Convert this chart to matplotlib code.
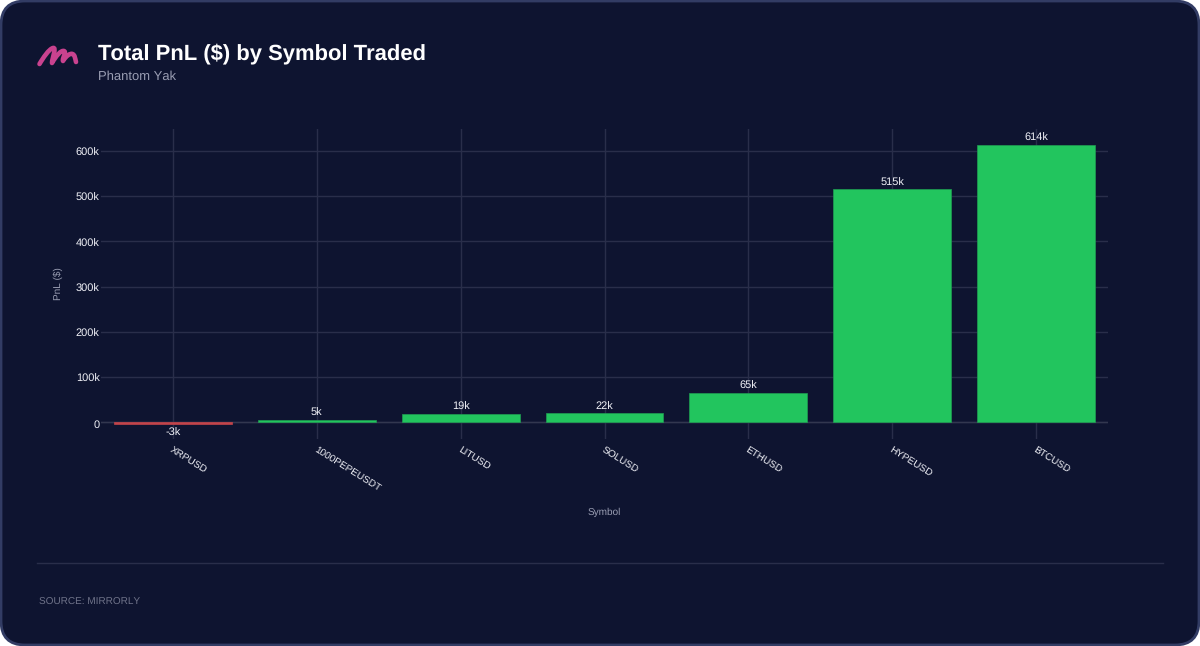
import matplotlib
matplotlib.use("Agg")
import matplotlib.pyplot as plt
from matplotlib.patches import FancyBboxPatch, PathPatch
from matplotlib.path import Path
from matplotlib.transforms import ScaledTranslation

plt.rcParams['font.family'] = ['Liberation Sans', 'DejaVu Sans']
plt.rcParams['text.hinting'] = 'no_hinting'
plt.rcParams['text.hinting_factor'] = 1

symbols = ['XRPUSD', '1000PEPEUSDT', 'LITUSD', 'SOLUSD', 'ETHUSD', 'HYPEUSD', 'BTCUSD']
pnl_k = [-3, 5, 19, 22, 65, 515, 614]
y_ticks = [0, 100, 200, 300, 400, 500, 600]
y_tick_labels = ['0', '100k', '200k', '300k', '400k', '500k', '600k']

W, H = 1200, 646
BG = '#0e1430'
BORDER = '#323c64'
GRID = '#292e4a'
GREEN = '#22c55e'
RED = '#c2444a'
TEXT = '#f0f1f7'
MUTED = '#9a9eb3'

fig = plt.figure(figsize=(W / 100, H / 100), dpi=100, facecolor='white')

# Card and furniture, in pixel coordinates
bgax = fig.add_axes([0, 0, 1, 1], zorder=0)
bgax.set_xlim(0, W)
bgax.set_ylim(H, 0)
bgax.axis('off')
bgax.add_patch(FancyBboxPatch((1, 1), W - 2, H - 2,
                              boxstyle='round,pad=0,rounding_size=24',
                              fc=BG, ec=BORDER, lw=2))
bgax.plot([37, 1163], [563, 563], color=GRID, lw=1)

logo_verts = [(39.5, 64), (43, 58), (49, 49), (53, 48), (57, 47), (52, 58), (52, 63),
              (56, 56), (61, 50), (64, 51), (67, 52), (62, 58), (63, 61),
              (66, 56), (70, 53), (72.5, 54), (75, 55), (75, 58), (76, 62)]
logo_codes = [Path.MOVETO] + [Path.CURVE4] * 18
bgax.add_patch(PathPatch(Path(logo_verts, logo_codes), fc='none', ec='#c9428f',
                         lw=3.3, capstyle='round', joinstyle='round'))

bgax.text(98, 54, 'Total PnL ($) by Symbol Traded', color='#ffffff', fontsize=15.9,
          fontweight='bold', va='center', ha='left')
bgax.text(98, 77, 'Phantom Yak', color=MUTED, fontsize=9.2, va='center', ha='left')
bgax.text(39, 602, 'SOURCE: MIRRORLY', color='#6f7389', fontsize=7.4, va='center', ha='left')

# Plot area
L, R, T, B = 101, 1108, 129, 439
ax = fig.add_axes([L / W, 1 - B / H, (R - L) / W, (B - T) / H], zorder=1)
ax.patch.set_alpha(0)
x = list(range(len(symbols)))
colors = [GREEN if v >= 0 else RED for v in pnl_k]
edges = ['#1f9e52' if v >= 0 else RED for v in pnl_k]
ax.bar(x, pnl_k, width=0.82, color=colors, edgecolor=edges, linewidth=0.5, zorder=3)

ax.set_xlim(-0.5, len(symbols) - 0.5)
ax.set_ylim(-36.5, 648.6)
ax.set_yticks(y_ticks)
ax.set_yticklabels(y_tick_labels, color=TEXT, fontsize=8.2)
ax.set_xticks(x)
ax.set_xticklabels(symbols, color=TEXT, fontsize=7.3, rotation=-32,
                   ha='left', va='top', rotation_mode='anchor')
ax.tick_params(axis='both', length=0)
ax.tick_params(axis='x', pad=5.2)
ax.tick_params(axis='y', pad=1)
shift = ScaledTranslation(0, -1 / 100, fig.dpi_scale_trans)
for lab in ax.get_yticklabels():
    lab.set_transform(lab.get_transform() + shift)
ax.grid(True, color=GRID, lw=1, zorder=1)
ax.set_axisbelow(True)
for s in ax.spines.values():
    s.set_visible(False)
ax.axhline(0, color='#32374f', lw=1, zorder=2)

for xi, v in zip(x, pnl_k):
    label = f'{v}k'
    if v >= 0:
        ax.annotate(label, (xi, v), xytext=(0, 1.2), textcoords='offset points',
                    ha='center', va='bottom', color=TEXT, fontsize=7.8, zorder=4)
    else:
        ax.annotate(label, (xi, v), xytext=(0, -3), textcoords='offset points',
                    ha='center', va='top', color=TEXT, fontsize=7.8, zorder=4)

bgax.text(604.5, 512.5, 'Symbol', color=MUTED, fontsize=7.3, ha='center', va='center')
bgax.text(58, 284, 'PnL ($)', color=MUTED, fontsize=7.3, ha='center', va='center', rotation=90)

fig.savefig('out.png', dpi=100, facecolor='white')
